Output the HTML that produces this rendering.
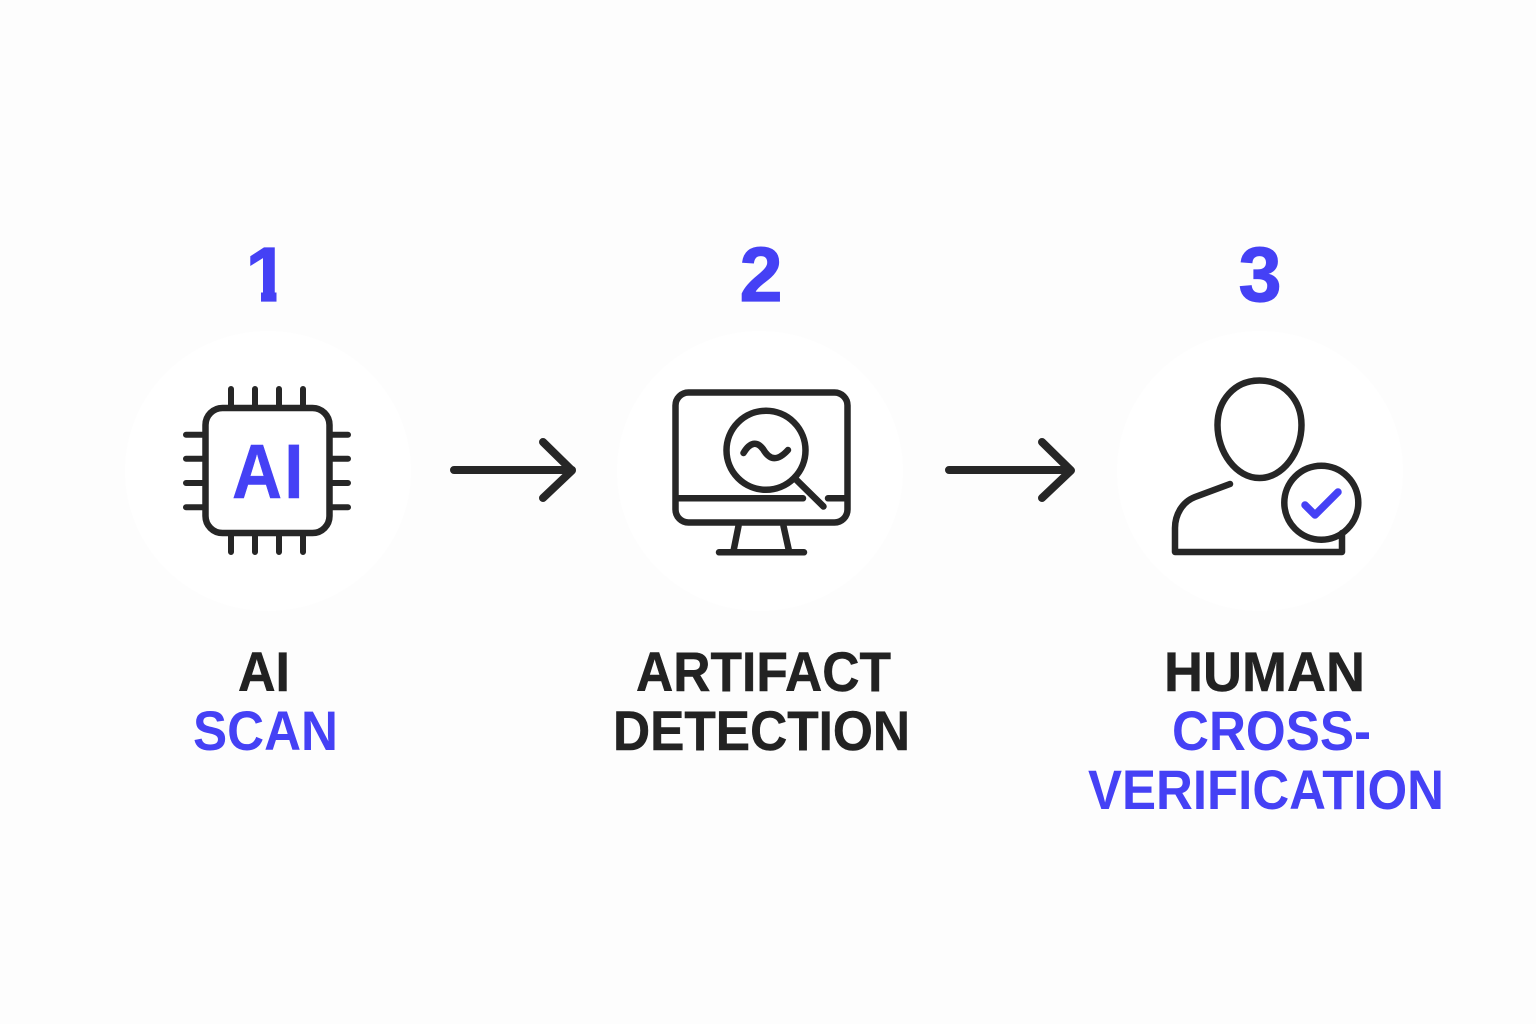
<!DOCTYPE html>
<html><head><meta charset="utf-8"><style>
html,body{margin:0;padding:0;background:#fdfdfd}
svg{display:block}
text{font-family:"Liberation Sans",sans-serif;font-weight:700}
.b{fill:#4541f5}.d{fill:#222}
.n{stroke:#4541f5;stroke-width:1.2}
.dk{stroke:#222;stroke-width:.5}
.l{fill:none;stroke:#262626;stroke-linecap:round;stroke-linejoin:round}
</style></head><body>
<svg width="1536" height="1024" viewBox="0 0 1536 1024" xmlns="http://www.w3.org/2000/svg">
<defs>
<clipPath id="one"><path d="M230 235H285V289H276.5V302H261V289H230Z"/></clipPath>
</defs>
<rect width="1536" height="1024" fill="#fdfdfd"/>
<ellipse cx="268" cy="471" rx="143" ry="140" fill="#fff"/>
<ellipse cx="760" cy="471" rx="143" ry="140" fill="#fff"/>
<ellipse cx="1260" cy="471" rx="143" ry="140" fill="#fff"/>

<text class="b n" x="267" y="301" font-size="77" text-anchor="middle" clip-path="url(#one)">1</text>
<text class="b n" x="761" y="301" font-size="77" text-anchor="middle">2</text>
<text class="b n" x="1260" y="301" font-size="77" text-anchor="middle">3</text>

<!-- chip -->
<g class="l" stroke-width="6.5">
<rect x="205.5" y="408" width="124" height="125" rx="17"/>
</g>
<g class="l" stroke-width="6">
<path d="M231 389V405M255 389V405M279 389V405M303 389V405M231 536V552M255 536V552M279 536V552M303 536V552M186 434.7H203M186 458.7H203M186 483H203M186 507.3H203M332 434.7H348M332 458.7H348M332 483H348M332 507.3H348"/>
</g>
<text class="b" transform="translate(232,498) scale(.9,1)" x="0 58" y="0" font-size="77" stroke="#4541f5" stroke-width=".5">AI</text>

<!-- arrows -->
<g class="l" stroke-width="8">
<path d="M454 470H572M543 442L572 470.5L543 498"/>
<path d="M949 470H1070M1042 442L1071 470.5L1042 498"/>
</g>

<!-- monitor -->
<g class="l" stroke-width="6.5">
<rect x="675.5" y="392.5" width="172" height="130" rx="13"/>
<path d="M677 498.3H803M828 498.3H846"/>
<circle cx="766" cy="450.3" r="39.5"/>
<path d="M795 478.5L823.5 506.5"/>
<path d="M743.5 453C750 442 757 441 763 449C770 461 778 461 788 450"/>
<path d="M738.5 526L733.5 551M783.5 526L789 551M719 552.3H804"/>
</g>

<!-- person -->
<g class="l" stroke-width="6.5">
<path d="M1259.5 380.5C1285 380.5 1301.5 401 1301.5 425C1301.5 452 1283 478 1259.5 478C1236 478 1217.5 452 1217.5 425C1217.5 401 1234 380.5 1259.5 380.5Z"/>
<path d="M1230 484L1195 497C1182 502 1175 515 1175 528V552H1342V533"/>
<circle cx="1321.3" cy="502.7" r="37"/>
</g>
<path d="M1305 505L1315 515L1338 492" fill="none" stroke="#4541f5" stroke-width="7.5" stroke-linecap="round" stroke-linejoin="round"/>

<!-- labels -->
<text class="d dk" x="238" y="691" font-size="56" textLength="52" lengthAdjust="spacingAndGlyphs">AI</text>
<text class="b" x="193" y="750" font-size="56" textLength="145" lengthAdjust="spacingAndGlyphs">SCAN</text>
<text class="d dk" x="636" y="691" font-size="56" textLength="255" lengthAdjust="spacingAndGlyphs">ARTIFACT</text>
<text class="d dk" x="613" y="750" font-size="56" textLength="297" lengthAdjust="spacingAndGlyphs">DETECTION</text>
<text class="d dk" x="1164" y="691" font-size="56" textLength="201" lengthAdjust="spacingAndGlyphs">HUMAN</text>
<text class="b" x="1172" y="750" font-size="56" textLength="199" lengthAdjust="spacingAndGlyphs">CROSS-</text>
<text class="b" x="1088" y="809" font-size="56" textLength="356" lengthAdjust="spacingAndGlyphs">VERIFICATION</text>
</svg>
</body></html>
